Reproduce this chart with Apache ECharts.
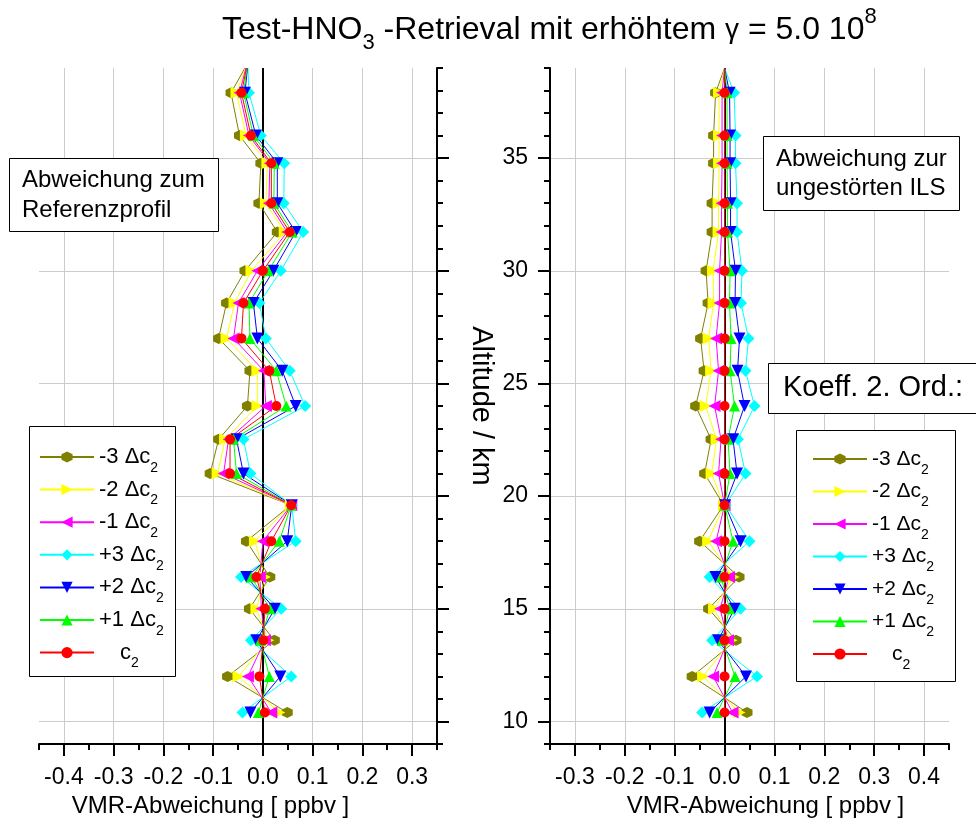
<!DOCTYPE html>
<html>
<head>
<meta charset="utf-8">
<script src="https://cdn.jsdelivr.net/npm/echarts@6/dist/echarts.min.js"></script>
<style>
  html, body { margin: 0; padding: 0; background: #fff; }
  #chart { width: 976px; height: 821px; }
</style>
</head>
<body>
<div id="chart"></div>
<script>
// Retrieval altitude levels (km); the first level only closes the profiles at the top
const altitude = [39.0, 37.9, 36.0, 34.77, 33.0, 31.72, 30.0, 28.57, 27.0, 25.56, 24.0, 22.52, 21.0, 19.6, 18.0, 16.41, 15.0, 13.6, 12.0, 10.4];

const seriesNames = ['-3 Δc2', '-2 Δc2', '-1 Δc2', '+3 Δc2', '+2 Δc2', '+1 Δc2', 'c2'];

// VMR deviation from the reference profile (ppbv)
const profM3 = [-0.036, -0.064, -0.047, -0.004, -0.008, 0.029, -0.036, -0.073, -0.089, -0.026, -0.031, -0.089, -0.106, 0.056, -0.033, 0.014, -0.027, 0.023, -0.071, 0.049];
const profM2 = [-0.035, -0.053, -0.034, 0.009, 0.006, 0.044, -0.023, -0.057, -0.073, -0.011, -0.011, -0.076, -0.091, 0.056, -0.016, 0.004, -0.013, 0.011, -0.049, 0.033];
const profM1 = [-0.034, -0.047, -0.028, 0.014, 0.012, 0.049, -0.011, -0.049, -0.059, 0.002, 0.006, -0.069, -0.079, 0.057, 0.000, -0.006, -0.003, 0.004, -0.030, 0.017];
const profP3 = [-0.030, -0.028, -0.004, 0.043, 0.042, 0.081, 0.036, -0.007, 0.006, 0.054, 0.085, -0.039, -0.025, 0.058, 0.066, -0.044, 0.037, -0.024, 0.057, -0.041];
const profP2 = [-0.031, -0.036, -0.014, 0.029, 0.029, 0.066, 0.021, -0.019, -0.011, 0.039, 0.066, -0.053, -0.039, 0.058, 0.049, -0.033, 0.024, -0.013, 0.035, -0.025];
const profP1 = [-0.032, -0.039, -0.019, 0.023, 0.022, 0.059, 0.011, -0.028, -0.026, 0.027, 0.047, -0.059, -0.053, 0.057, 0.033, -0.023, 0.014, -0.005, 0.013, -0.009];
const profC2 = [-0.033, -0.043, -0.024, 0.017, 0.017, 0.054, 0.000, -0.039, -0.043, 0.013, 0.027, -0.066, -0.066, 0.057, 0.017, -0.013, 0.004, 0.001, -0.007, 0.004];

// VMR deviation from the retrieval with the undisturbed ILS (ppbv)
const ilsM3 = [0.000, -0.018, -0.022, -0.022, -0.025, -0.025, -0.037, -0.033, -0.048, -0.041, -0.058, -0.027, -0.040, -0.002, -0.050, 0.029, -0.032, 0.023, -0.065, 0.045];
const ilsM2 = [0.000, -0.011, -0.011, -0.011, -0.012, -0.012, -0.023, -0.022, -0.032, -0.027, -0.038, -0.016, -0.026, -0.001, -0.033, 0.018, -0.021, 0.014, -0.043, 0.030];
const ilsM1 = [0.000, -0.005, -0.005, -0.005, -0.006, -0.006, -0.010, -0.010, -0.017, -0.012, -0.020, -0.007, -0.012, 0.000, -0.017, 0.009, -0.009, 0.007, -0.023, 0.016];
const ilsP3 = [0.000, 0.019, 0.022, 0.022, 0.025, 0.025, 0.035, 0.033, 0.048, 0.042, 0.060, 0.027, 0.042, 0.002, 0.050, -0.030, 0.032, -0.025, 0.065, -0.045];
const ilsP2 = [0.000, 0.010, 0.011, 0.011, 0.012, 0.012, 0.022, 0.021, 0.030, 0.026, 0.040, 0.017, 0.025, 0.001, 0.032, -0.018, 0.020, -0.013, 0.043, -0.030];
const ilsP1 = [0.000, 0.005, 0.005, 0.005, 0.006, 0.006, 0.011, 0.010, 0.013, 0.011, 0.020, 0.007, 0.011, 0.000, 0.017, -0.007, 0.010, -0.005, 0.021, -0.015];
const ilsC2 = [0.000, 0.000, 0.000, 0.000, 0.000, 0.000, 0.000, 0.000, 0.000, 0.000, 0.000, 0.000, 0.000, 0.000, 0.000, 0.000, 0.000, 0.000, 0.000, 0.000];

// Tick labels
const leftXTicks = [-0.4, -0.3, -0.2, -0.1, 0.0, 0.1, 0.2, 0.3];
const rightXTicks = [-0.3, -0.2, -0.1, 0.0, 0.1, 0.2, 0.3, 0.4];
const altTicks = [10, 15, 20, 25, 30, 35];

const FONT = '"Liberation Sans", Arial, sans-serif';
const colors = ['#808000', '#ffff00', '#ff00ff', '#00ffff', '#0000ff', '#00ff00', '#ff0000'];
const symbols = [
  'path://M50,0 L93.3,25 L93.3,75 L50,100 L6.7,75 L6.7,25 Z', // hexagon
  'path://M0,0 L100,50 L0,100 Z',                             // triangle right
  'path://M100,0 L0,50 L100,100 Z',                           // triangle left
  'diamond',
  'path://M0,0 L100,0 L50,100 Z',                             // triangle down
  'triangle',
  'circle'
];
const symbolSizes = [11, 12, 12, 12, 12, 11, 10];

function makeSeries(values, idx, axisIdx) {
  const s = {
    type: 'line',
    name: seriesNames[idx],
    xAxisIndex: axisIdx,
    yAxisIndex: axisIdx,
    data: values.map((v, i) => i === 0 ? { value: [v, altitude[i]], symbol: 'none' } : [v, altitude[i]]),
    symbol: symbols[idx],
    symbolSize: symbolSizes[idx],
    showAllSymbol: true,
    itemStyle: { color: colors[idx] },
    lineStyle: { color: colors[idx], width: 1 },
    emphasis: { disabled: true },
    animation: false,
    z: 2
  };
  if (idx === 6) {
    // vertical zero line
    s.markLine = {
      silent: true, symbol: 'none', z: 1, animation: false,
      label: { show: false },
      lineStyle: { color: '#000', width: 2, type: 'solid' },
      data: [{ xAxis: 0 }]
    };
  }
  return s;
}

function legendText(name) {
  if (name === 'c2') return '{p|c}{s|2}';
  return '{m|' + name.slice(0, -1) + '}{s|' + name.slice(-1) + '}';
}

function legendRich(size, subSize, pad) {
  return {
    m: { fontFamily: FONT, fontSize: size, color: '#000' },
    p: { fontFamily: FONT, fontSize: size, color: '#000', padding: [0, 0, 0, pad] },
    s: { fontFamily: FONT, fontSize: subSize, color: '#000', padding: [22, 0, 0, 0] }
  };
}

const tickFont = { fontFamily: FONT, fontSize: 23, color: '#000' };
const nameFont = { fontFamily: FONT, fontSize: 24, color: '#000' };
const blackLine = { color: '#000', width: 2 };
const gridLine = { color: '#cccccc', width: 1 };

function mainX(grid, min, max, ticks, namePad) {
  return {
    gridIndex: grid, type: 'value', position: 'bottom', min: min, max: max, interval: 0.05,
    axisLine: { show: true, onZero: false, lineStyle: blackLine },
    axisTick: { show: true, customValues: ticks, length: 12, lineStyle: blackLine },
    axisLabel: { show: true, customValues: ticks, margin: 22, formatter: v => v.toFixed(1), ...tickFont },
    splitLine: { show: true, lineStyle: gridLine },
    name: 'VMR-Abweichung [ ppbv ]', nameLocation: 'middle', nameGap: 48,
    nameTextStyle: { ...nameFont, padding: namePad }
  };
}
function minorX(grid, min, max) {
  return {
    gridIndex: grid, type: 'value', position: 'bottom', min: min, max: max, interval: 0.05,
    axisLine: { show: false, onZero: false },
    axisTick: { show: true, length: 6, lineStyle: blackLine },
    axisLabel: { show: false }, splitLine: { show: false }
  };
}
function minorY(grid, pos) {
  return {
    gridIndex: grid, type: 'value', position: pos, min: 9, max: 39, interval: 1,
    axisLine: { show: false, onZero: false },
    axisTick: { show: true, length: 6, lineStyle: blackLine },
    axisLabel: { show: false }, splitLine: { show: false }
  };
}

const titleRich = {
  m: { fontFamily: FONT, fontSize: 32, lineHeight: 44, color: '#000' },
  s: { fontFamily: FONT, fontSize: 22, lineHeight: 10, padding: [26, 0, 0, 0], color: '#000' },
  u: { fontFamily: FONT, fontSize: 22, lineHeight: 10, padding: [0, 0, 26, 0], color: '#000' },
  g: { fontFamily: FONT, fontSize: 28, lineHeight: 44, color: '#000' }
};

const option = {
  backgroundColor: '#fff',
  animation: false,
  grid: [
    { left: 39, top: 68, width: 398, height: 676, outerBoundsMode: 'none' },
    { left: 550, top: 68, width: 399, height: 676, outerBoundsMode: 'none' }
  ],
  xAxis: [
    mainX(0, -0.45, 0.35, leftXTicks, [0, 55, 0, 0]),
    minorX(0, -0.45, 0.35),
    mainX(1, -0.35, 0.45, rightXTicks, [0, 0, 0, 32]),
    minorX(1, -0.35, 0.45)
  ],
  yAxis: [
    {
      gridIndex: 0, type: 'value', position: 'right', min: 9, max: 39, interval: 1,
      axisLine: { show: true, onZero: false, lineStyle: blackLine },
      axisTick: { show: true, customValues: altTicks, length: 12, lineStyle: blackLine },
      axisLabel: { show: false },
      splitLine: { show: true, lineStyle: gridLine }
    },
    minorY(0, 'right'),
    {
      gridIndex: 1, type: 'value', position: 'left', min: 9, max: 39, interval: 1,
      axisLine: { show: true, onZero: false, lineStyle: blackLine },
      axisTick: { show: true, customValues: altTicks, length: 12, lineStyle: blackLine },
      axisLabel: { show: true, customValues: altTicks, margin: 22, ...tickFont },
      splitLine: { show: true, lineStyle: gridLine },
      name: 'Altitude / km', nameLocation: 'middle', nameGap: 55, nameRotate: -90,
      nameTextStyle: { fontFamily: FONT, fontSize: 29, color: '#000' }
    },
    minorY(1, 'left')
  ],
  legend: [
    {
      orient: 'vertical', left: 39, top: 441, padding: 0,
      itemWidth: 54, itemHeight: 14, itemGap: -1.4, selectedMode: false,
      data: seriesNames, formatter: legendText,
      textStyle: { color: '#000', fontFamily: FONT, lineHeight: 32, rich: legendRich(22, 14, 21) }
    },
    {
      orient: 'vertical', left: 812, top: 443, padding: 0,
      itemWidth: 54, itemHeight: 14, itemGap: -1.5, selectedMode: false,
      data: seriesNames, formatter: legendText,
      textStyle: { color: '#000', fontFamily: FONT, lineHeight: 32, rich: legendRich(21, 14, 20) }
    }
  ],
  graphic: [
    {
      type: 'text', z: 5, x: 222, y: 8,
      style: {
        text: '{m|Test-HNO}{s|3}{m| -Retrieval mit erhöhtem }{g|γ}{m| = 5.0 10}{u|8}',
        rich: titleRich, verticalAlign: 'top', align: 'left'
      }
    },
    { type: 'rect', z: 3, shape: { x: 9.5, y: 158.5, width: 209, height: 73 }, style: { fill: '#fff', stroke: '#000', lineWidth: 1 } },
    { type: 'text', z: 5, style: { x: 22, y: 195, text: 'Abweichung zum\nReferenzprofil', font: '24px ' + FONT, lineHeight: 30, fill: '#000', verticalAlign: 'middle', align: 'left' } },
    { type: 'rect', z: 3, shape: { x: 763.5, y: 136.5, width: 196, height: 74 }, style: { fill: '#fff', stroke: '#000', lineWidth: 1 } },
    { type: 'text', z: 5, style: { x: 776, y: 174, text: 'Abweichung zur\nungestörten ILS', font: '24px ' + FONT, lineHeight: 29, fill: '#000', verticalAlign: 'middle', align: 'left' } },
    { type: 'rect', z: 3, shape: { x: 768.5, y: 363.5, width: 230, height: 50 }, style: { fill: '#fff', stroke: '#000', lineWidth: 1 } },
    { type: 'text', z: 5, style: { x: 783, y: 388, text: 'Koeff. 2. Ord.:', font: '29px ' + FONT, fill: '#000', verticalAlign: 'middle', align: 'left' } },
    { type: 'rect', z: 3, shape: { x: 29.5, y: 426.5, width: 146, height: 250 }, style: { fill: '#fff', stroke: '#000', lineWidth: 1 } },
    { type: 'rect', z: 3, shape: { x: 796.5, y: 430.5, width: 159, height: 251 }, style: { fill: '#fff', stroke: '#000', lineWidth: 1 } }
  ],
  series: [
    makeSeries(profM3, 0, 0), makeSeries(profM2, 1, 0), makeSeries(profM1, 2, 0),
    makeSeries(profP3, 3, 0), makeSeries(profP2, 4, 0), makeSeries(profP1, 5, 0),
    makeSeries(profC2, 6, 0),
    makeSeries(ilsM3, 0, 2), makeSeries(ilsM2, 1, 2), makeSeries(ilsM1, 2, 2),
    makeSeries(ilsP3, 3, 2), makeSeries(ilsP2, 4, 2), makeSeries(ilsP1, 5, 2),
    makeSeries(ilsC2, 6, 2)
  ]
};

const chart = echarts.init(document.getElementById('chart'), null, { renderer: 'canvas' });
chart.setOption(option);
</script>
</body>
</html>
